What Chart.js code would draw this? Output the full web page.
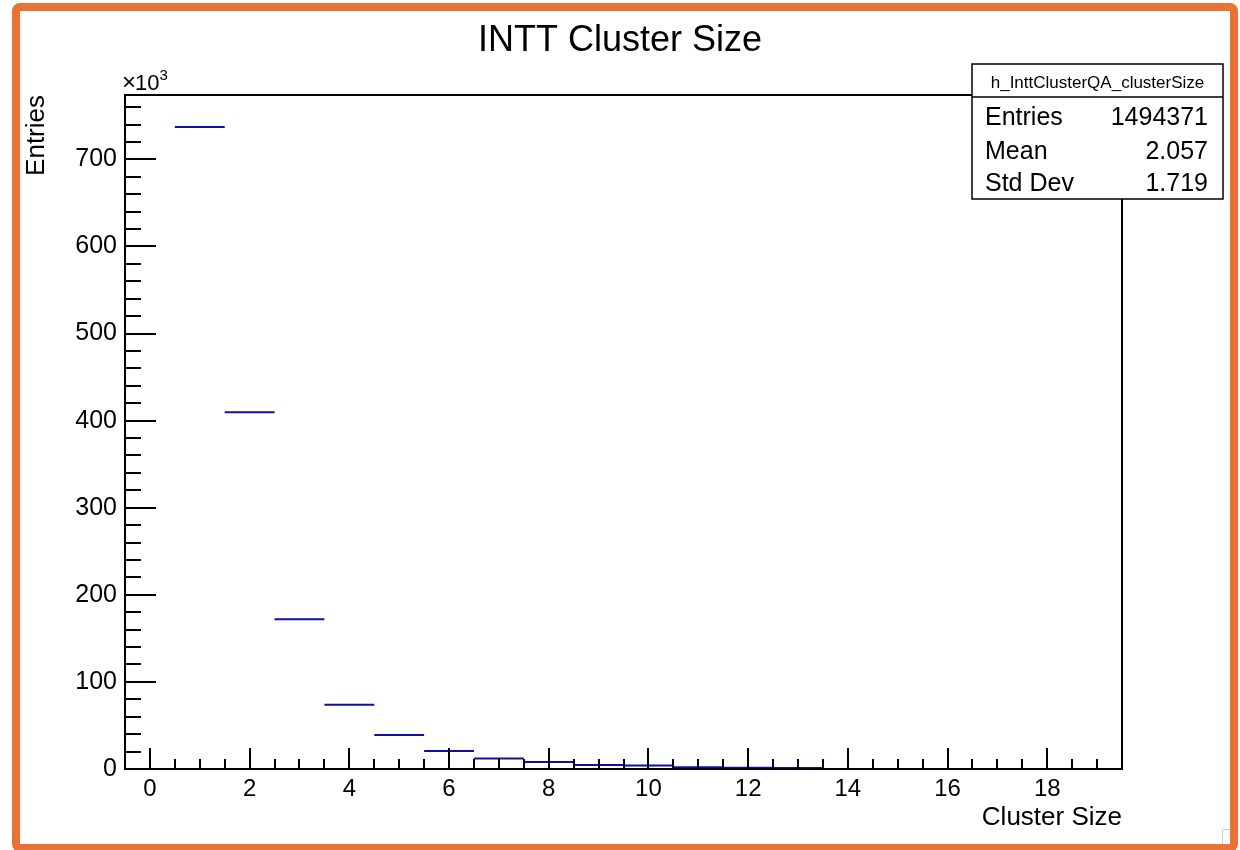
<!DOCTYPE html>
<html>
<head>
<meta charset="utf-8">
<title>INTT Cluster Size</title>
<script src="https://cdn.jsdelivr.net/npm/chart.js@4.4.1/dist/chart.umd.min.js"></script>
<style>
  body { margin: 0; background: #fff; }
  #wrap { position: relative; width: 1240px; height: 850px; overflow: hidden; background: #fff; }
  #frame {
    position: absolute; left: 12px; top: 3px; width: 1210px; height: 833px;
    border: 8px solid #ea7234; border-radius: 8px; pointer-events: none;
  }
</style>
</head>
<body>
<div id="wrap">
  <canvas id="chart" width="1240" height="850"></canvas>
  <div id="frame"></div>
</div>
<script>
// histogram bins (cluster size) and their counts
const binCenters = [1, 2, 3, 4, 5, 6, 7, 8, 9, 10, 11, 12, 13];
const binCounts = [737100, 409700, 172100, 73800, 39000, 20700, 12200, 8000, 4600, 4000, 1900, 1500, 1200];

// axis ticks
const xTickValues = [0, 2, 4, 6, 8, 10, 12, 14, 16, 18];
const yTickValues = [0, 100000, 200000, 300000, 400000, 500000, 600000, 700000];

// stats box
const statsName = "h_InttClusterQA_clusterSize";
const statsLabels = ["Entries", "Mean", "Std Dev"];
const statsValues = ["1494371", "2.057", "1.719"];

const FONT = "'Liberation Sans', Arial, Helvetica, sans-serif";
const yMax = Math.max(...binCounts) * 1.05;

// each bin -> flat segment from low edge to high edge, null breaks the line
const stepPoints = [];
binCenters.forEach((c, i) => {
  stepPoints.push({ x: c - 0.5, y: binCounts[i] });
  stepPoints.push({ x: c + 0.5, y: binCounts[i] });
  stepPoints.push({ x: c + 0.5, y: null });
});

// ROOT style frame, inner ticks, title and stats box
const rootFrame = {
  id: "rootFrame",
  beforeDraw(chart) {
    const ctx = chart.ctx;
    ctx.save();
    ctx.fillStyle = "#fff";
    ctx.fillRect(0, 0, chart.width, chart.height);
    ctx.restore();
  },
  afterDatasetsDraw(chart) {
    const { ctx, chartArea: a } = chart;
    const xs = chart.scales.x, ys = chart.scales.y;
    ctx.save();
    ctx.strokeStyle = "#000";
    ctx.lineWidth = 2;
    ctx.strokeRect(a.left, a.top, a.right - a.left, a.bottom - a.top);

    ctx.beginPath();
    for (let v = 0; v <= yMax; v += 20000) {
      const y = Math.round(ys.getPixelForValue(v));
      const len = v % 100000 === 0 ? 31 : 16;
      ctx.moveTo(a.left, y);
      ctx.lineTo(a.left + len, y);
    }
    for (let v = -0.5; v <= 19.5; v += 0.5) {
      const x = Math.round(xs.getPixelForValue(v));
      const len = v % 2 === 0 ? 21 : 10;
      ctx.moveTo(x, a.bottom);
      ctx.lineTo(x, a.bottom - len);
    }
    ctx.stroke();

    // exponent label
    ctx.fillStyle = "#000";
    ctx.textBaseline = "alphabetic";
    ctx.textAlign = "left";
    ctx.font = "24px " + FONT;
    ctx.fillText("\u00d7", 122, 90);
    const mw = ctx.measureText("\u00d7").width;
    ctx.font = "22px " + FONT;
    ctx.fillText("10", 122 + mw - 1, 90);
    const tw = ctx.measureText("10").width;
    ctx.font = "15px " + FONT;
    ctx.fillText("3", 122 + mw + tw - 1, 80);

    // title
    ctx.textAlign = "center";
    ctx.font = "36px " + FONT;
    ctx.fillText("INTT Cluster Size", 620, 51);

    // stats box
    const bx = 972, by = 64, bw = 251, bh = 135;
    ctx.fillStyle = "#fff";
    ctx.fillRect(bx, by, bw, bh);
    ctx.lineWidth = 1.5;
    ctx.strokeRect(bx, by, bw, bh);
    ctx.beginPath();
    ctx.moveTo(bx, 97);
    ctx.lineTo(bx + bw, 97);
    ctx.stroke();
    ctx.fillStyle = "#000";
    ctx.font = "17px " + FONT;
    ctx.fillText(statsName, bx + bw / 2, 88);
    ctx.font = "25px " + FONT;
    const rowBase = [125, 159, 191];
    statsLabels.forEach((lab, i) => {
      ctx.textAlign = "left";
      ctx.fillText(lab, 985, rowBase[i]);
      ctx.textAlign = "right";
      ctx.fillText(statsValues[i], 1208, rowBase[i]);
    });

    // little grey corner mark
    ctx.strokeStyle = "#cfcfcf";
    ctx.lineWidth = 1;
    ctx.beginPath();
    ctx.moveTo(1222.5, 844);
    ctx.lineTo(1222.5, 829.5);
    ctx.lineTo(1230, 829.5);
    ctx.stroke();
    ctx.restore();
  }
};

new Chart(document.getElementById("chart"), {
  type: "line",
  data: {
    datasets: [{
      data: stepPoints,
      borderColor: "#0f0fa5",
      borderWidth: 2,
      pointRadius: 0,
      spanGaps: false,
      fill: false,
      tension: 0
    }]
  },
  options: {
    responsive: false,
    animation: false,
    devicePixelRatio: 1,
    layout: { padding: { left: 0, top: 95, right: 118, bottom: 0 } },
    plugins: { legend: { display: false }, tooltip: { enabled: false } },
    scales: {
      x: {
        type: "linear",
        min: -0.5,
        max: 19.5,
        afterBuildTicks: s => { s.ticks = xTickValues.map(v => ({ value: v })); },
        afterFit: s => { s.height = 81; },
        grid: { display: false, drawTicks: false },
        border: { display: false },
        ticks: { color: "#000", font: { family: FONT, size: 24 }, padding: 6, maxRotation: 0, autoSkip: false },
        title: {
          display: true, text: "Cluster Size", align: "end", color: "#000",
          font: { family: FONT, size: 26, lineHeight: 1 }, padding: { top: 0, bottom: 19 }
        }
      },
      y: {
        type: "linear",
        min: 0,
        max: yMax,
        afterBuildTicks: s => { s.ticks = yTickValues.map(v => ({ value: v })); },
        afterFit: s => { s.width = 125; },
        grid: { display: false, drawTicks: false },
        border: { display: false },
        ticks: { color: "#000", font: { family: FONT, size: 25 }, padding: 8, callback: v => v / 1000 },
        title: {
          display: true, text: "Entries", align: "end", color: "#000",
          font: { family: FONT, size: 26, lineHeight: 1 }, padding: { top: 24, bottom: 0 }
        }
      }
    }
  },
  plugins: [rootFrame]
});
</script>
</body>
</html>
